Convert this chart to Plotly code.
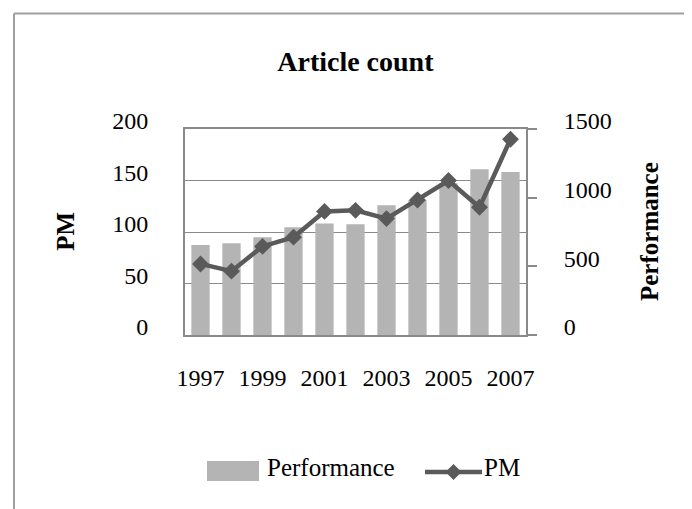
import plotly.graph_objects as go

years = [1997, 1998, 1999, 2000, 2001, 2002, 2003, 2004, 2005, 2006, 2007]
performance = [655, 668, 711, 784, 811, 806, 944, 983, 1105, 1207, 1187]
pm = [69, 62, 86, 95, 120, 121, 113, 131, 150, 124, 190]

pm_ticks = [0, 50, 100, 150, 200]
perf_ticks = [0, 500, 1000, 1500]
x_ticks = [1997, 1999, 2001, 2003, 2005, 2007]

FONT = "Liberation Serif"
GRID = "#8a8a8a"
BAR = "#b4b4b4"
LINE = "#5a5a5a"

# plot-area geometry in pixels (used only to place layout decorations)
L, R, T, B = 177, 518, 121, 327
W, H = R - L, B - T


def px(x):
    return (x - L) / W


def py(y):
    return (B - y) / H


fig = go.Figure()
fig.add_trace(go.Bar(
    x=years, y=performance, name="Performance", yaxis="y",
    marker=dict(color=BAR, line=dict(width=0)),
))
fig.add_trace(go.Scatter(
    x=years, y=pm, name="PM", yaxis="y2", mode="lines+markers",
    line=dict(color=LINE, width=4.5),
    marker=dict(symbol="diamond", size=13, color=LINE),
))

# legend drawn as layout decoration (wide swatch like the original)
leg_y_line = 464
dcx, dcy, dr = 445.5, leg_y_line, 8
diamond_path = "M{},{} L{},{} L{},{} L{},{} Z".format(
    px(dcx), py(dcy - dr), px(dcx + dr), py(dcy), px(dcx), py(dcy + dr), px(dcx - dr), py(dcy))

shapes = [
    dict(type="line", xref="paper", yref="paper", x0=px(6), x1=px(6),
         y0=py(5.5), y1=py(530), line=dict(color="#a0a0a0", width=2)),
    dict(type="line", xref="paper", yref="paper", x0=px(6), x1=px(720),
         y0=py(5.5), y1=py(5.5), line=dict(color="#a0a0a0", width=2)),
    dict(type="rect", xref="paper", yref="paper", x0=px(199), x1=px(251),
         y0=py(473), y1=py(453), fillcolor=BAR, line=dict(width=0)),
    dict(type="line", xref="paper", yref="paper", x0=px(417), x1=px(474),
         y0=py(leg_y_line), y1=py(leg_y_line), line=dict(color=LINE, width=4.5)),
    dict(type="path", xref="paper", yref="paper", path=diamond_path,
         fillcolor=LINE, line=dict(width=0)),
]

annotations = [
    dict(text="<b>PM</b>", xref="paper", yref="paper", x=px(57.5), y=py(223.3),
         textangle=-90, showarrow=False, font=dict(size=25, family=FONT),
         xanchor="center", yanchor="middle"),
    dict(text="<b>Performance</b>", xref="paper", yref="paper", x=px(641.7), y=py(223.3),
         textangle=-90, showarrow=False, font=dict(size=25, family=FONT),
         xanchor="center", yanchor="middle"),
    dict(text="Performance", xref="paper", yref="paper", x=px(257), y=py(459),
         showarrow=False, font=dict(size=25, family=FONT), xanchor="left", yanchor="middle"),
    dict(text="PM", xref="paper", yref="paper", x=px(474), y=py(459),
         showarrow=False, font=dict(size=25, family=FONT), xanchor="left", yanchor="middle"),
]

fig.update_layout(
    width=692, height=509,
    margin=dict(l=L, r=692 - R, t=T, b=509 - B),
    paper_bgcolor="white", plot_bgcolor="white",
    font=dict(family=FONT, size=24, color="black"),
    bargap=0.41,
    showlegend=False,
    xaxis=dict(range=[1996.5, 2007.5], tickvals=x_ticks, ticktext=[str(v) for v in x_ticks],
               showgrid=False, showline=True, linecolor=GRID, linewidth=2, mirror=True,
               ticks="", ticklabelstandoff=20, tickfont=dict(size=24)),
    yaxis=dict(range=[0, 1500], tickvals=perf_ticks, side="right", showgrid=False,
               showline=True, linecolor=GRID, linewidth=2, ticks="outside", ticklen=9,
               tickcolor=GRID, tickwidth=2, ticklabelstandoff=22, ticklabelshift=-8,
               zeroline=False, tickfont=dict(size=24)),
    yaxis2=dict(range=[0, 200], tickvals=pm_ticks, side="left", overlaying="y",
                showgrid=True, gridcolor=GRID, gridwidth=1.3, showline=True,
                linecolor=GRID, linewidth=2, ticks="", ticklabelstandoff=30,
                ticklabelshift=-8, zeroline=False, tickfont=dict(size=24)),
    title=dict(text="<b>Article count</b>", x=0.502, xanchor="center",
               y=1 - 53 / 509, yanchor="middle", font=dict(size=28, family=FONT)),
    annotations=annotations,
    shapes=shapes,
)

fig.write_html("out.html")
